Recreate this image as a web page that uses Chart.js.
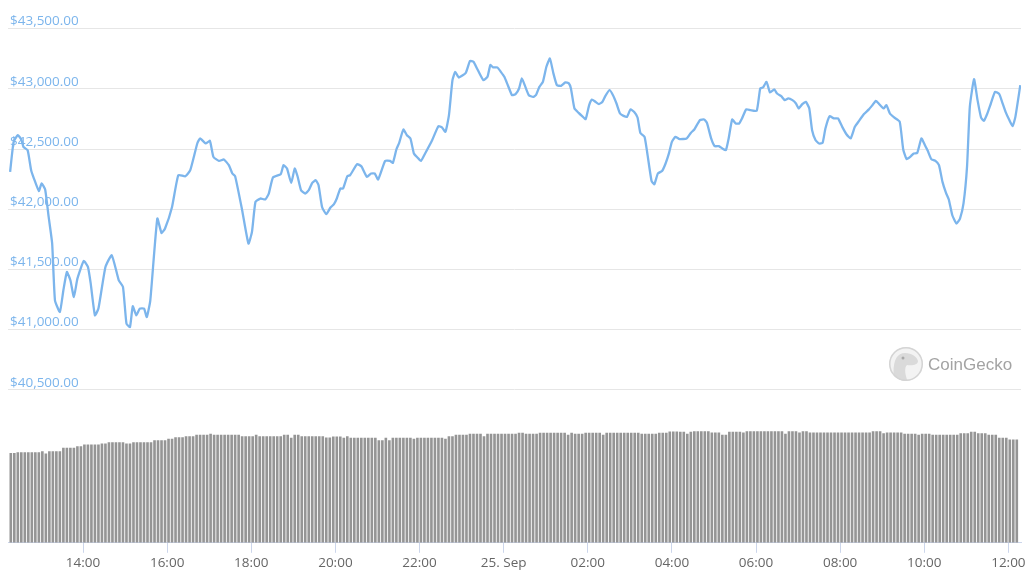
<!DOCTYPE html>
<html lang="en">
<head>
  <meta charset="UTF-8" />
  <title>BTC Price - 24h</title>
  <script src="https://cdn.jsdelivr.net/npm/chart.js"></script>
  <style>
    html, body { margin: 0; padding: 0; background: #fff; }
  </style>
</head>
<body>
  <canvas id="priceChart" width="1031" height="587"></canvas>

  <script>
    // time values are minutes after 24 Sep 12:00
    const priceMinutes = [
      16, 21, 27, 32, 35, 41, 46, 50, 57, 61, 66, 71, 76, 80, 87, 92, 97, 102, 107, 112,
      121, 127, 131, 137, 142, 152, 161, 171, 177, 182, 187, 191, 196, 201, 207, 211, 216, 226, 232, 237,
      247, 256, 266, 273, 283, 287, 295, 301, 306, 314, 321, 328, 333, 337, 347, 356, 361, 366, 373, 380,
      385, 391, 402, 406, 411, 417, 422, 426, 431, 437, 442, 447, 452, 456, 461, 467, 473, 478, 482, 487,
      491, 497, 501, 511, 517, 525, 531, 536, 541, 551, 558, 562, 567, 571, 577, 582, 587, 592, 597, 602,
      608, 618, 627, 632, 637, 642, 647, 651, 656, 666, 672, 677, 682, 691, 697, 701, 705, 711, 716, 721,
      726, 732, 737, 742, 746, 751, 756, 762, 766, 771, 776, 781, 786, 791, 796, 802, 808, 813, 816, 821,
      827, 832, 837, 842, 846, 851, 856, 861, 865, 871, 876, 881, 886, 891, 896, 901, 906, 911, 915, 921,
      925, 931, 935, 940, 946, 951, 956, 960, 965, 971, 981, 987, 992, 1000, 1006, 1010, 1016, 1021, 1027, 1032,
      1037, 1041, 1046, 1051, 1056, 1060, 1066, 1072, 1081, 1086, 1090, 1095, 1100, 1106, 1110, 1116, 1121, 1126, 1132, 1137,
      1141, 1146, 1151, 1156, 1160, 1165, 1170, 1175, 1179, 1185, 1191, 1197, 1203, 1209, 1215, 1221, 1227, 1234, 1241, 1246,
      1251, 1255, 1262, 1266, 1271, 1277, 1285, 1290, 1295, 1301, 1305, 1310, 1316, 1321, 1325, 1330, 1336, 1341, 1346, 1351,
      1355, 1360, 1366, 1371, 1376, 1381, 1385, 1391, 1396, 1401, 1405, 1410, 1415, 1421, 1427, 1431, 1436, 1441, 1446, 1450,
      1457
    ];
    const prices = [
      42310, 42559, 42615, 42579, 42518, 42490, 42324, 42255, 42152, 42214, 42164, 41936, 41715, 41244, 41147, 41327, 41479, 41410, 41271, 41424,
      41570, 41521, 41382, 41119, 41175, 41521, 41618, 41410, 41355, 41050, 41022, 41194, 41119, 41175, 41175, 41105, 41244, 41923, 41803, 41840,
      42019, 42283, 42274, 42324, 42546, 42588, 42546, 42568, 42435, 42401, 42413, 42366, 42297, 42274, 41992, 41715, 41812, 42061, 42089, 42081,
      42130, 42264, 42291, 42366, 42338, 42219, 42338, 42274, 42158, 42130, 42158, 42219, 42241, 42200, 42019, 41959, 42014, 42042, 42089, 42172,
      42172, 42274, 42283, 42374, 42357, 42269, 42297, 42297, 42247, 42401, 42401, 42385, 42496, 42551, 42662, 42615, 42588, 42463, 42430, 42401,
      42463, 42573, 42690, 42679, 42643, 42781, 43072, 43141, 43094, 43133, 43232, 43224, 43169, 43072, 43100, 43197, 43178, 43178, 43141, 43100,
      43030, 42947, 42956, 43003, 43086, 43016, 42947, 42933, 42947, 43016, 43058, 43183, 43252, 43128, 43030, 43025, 43053, 43045, 43003, 42837,
      42800, 42773, 42748, 42864, 42911, 42892, 42873, 42892, 42939, 42989, 42947, 42878, 42795, 42775, 42767, 42829, 42809, 42762, 42634, 42601,
      42463, 42235, 42208, 42297, 42318, 42380, 42468, 42559, 42601, 42582, 42588, 42634, 42662, 42740, 42745, 42717, 42588, 42524, 42524, 42504,
      42490, 42588, 42745, 42712, 42712, 42754, 42829, 42823, 42817, 43003, 43011, 43058, 42970, 42995, 42961, 42939, 42906, 42920, 42906, 42878,
      42837, 42873, 42892, 42837, 42656, 42573, 42546, 42551, 42671, 42773, 42754, 42754, 42684, 42623, 42588, 42684, 42734, 42790, 42829, 42864,
      42900, 42878, 42837, 42864, 42795, 42762, 42726, 42496, 42416, 42441, 42463, 42468, 42588, 42532, 42485, 42416, 42401, 42366, 42227, 42136,
      42081, 41950, 41881, 41923, 42048, 42352, 42850, 43080, 42906, 42762, 42734, 42795, 42878, 42975, 42956, 42892, 42809, 42745, 42690, 42767,
      43030
    ];

    // 24h volume (billions USD), one bar every 5 minutes
    const volumeStart = 17;
    const volumeStep = 5;
    const volumes = [
      26.9, 26.9, 27.1, 27.1, 27.1, 27.1, 27.1, 27.1, 27.1, 27.4, 26.7, 27.4,
      27.4, 27.4, 27.4, 28.4, 28.4, 28.4, 28.4, 28.9, 28.9, 29.4, 29.4, 29.4,
      29.4, 29.4, 29.7, 29.7, 30.1, 30.1, 30.1, 30.1, 30.1, 29.7, 29.7, 30.1,
      30.1, 30.1, 30.1, 30.1, 30.1, 30.7, 30.7, 30.7, 30.7, 31.1, 31.1, 31.6,
      31.6, 31.6, 31.9, 31.9, 31.9, 32.3, 32.3, 32.3, 32.3, 32.6, 32.3, 32.3,
      32.3, 32.3, 32.3, 32.3, 32.3, 32.3, 31.9, 31.9, 31.9, 31.9, 32.3, 31.9,
      31.9, 31.9, 31.9, 31.9, 31.9, 31.9, 32.3, 32.3, 31.4, 32.3, 32.3, 31.9,
      31.9, 31.9, 31.9, 31.9, 31.9, 31.9, 31.5, 31.5, 31.8, 31.8, 31.8, 31.4,
      31.9, 31.4, 31.4, 31.4, 31.4, 31.4, 31.4, 31.4, 31.4, 30.7, 30.7, 31.4,
      30.7, 31.4, 31.4, 31.4, 31.4, 31.4, 31.4, 31.1, 31.4, 31.4, 31.4, 31.4,
      31.4, 31.4, 31.4, 31.4, 31.1, 31.9, 31.9, 32.3, 32.3, 32.3, 32.3, 32.6,
      32.6, 32.6, 32.6, 31.9, 32.6, 32.6, 32.6, 32.6, 32.6, 32.6, 32.6, 32.6,
      32.6, 32.9, 32.9, 32.6, 32.6, 32.6, 32.6, 32.9, 32.9, 32.9, 32.9, 32.9,
      32.9, 32.9, 32.9, 32.3, 32.9, 32.6, 32.6, 32.6, 32.9, 32.9, 32.9, 32.9,
      32.9, 32.3, 32.9, 32.9, 32.9, 32.9, 32.9, 32.9, 32.9, 32.9, 32.9, 32.9,
      32.6, 32.6, 32.6, 32.6, 32.6, 32.9, 32.9, 32.9, 33.3, 33.3, 33.3, 33.2,
      33.2, 32.6, 33.2, 33.4, 33.4, 33.4, 33.4, 33.4, 33.0, 33.0, 33.0, 32.3,
      32.3, 33.2, 33.2, 33.2, 33.2, 33.0, 33.4, 33.4, 33.4, 33.4, 33.4, 33.4,
      33.4, 33.4, 33.4, 33.4, 33.4, 32.6, 33.4, 33.4, 33.4, 33.0, 33.4, 33.4,
      33.0, 33.0, 33.0, 33.0, 33.0, 33.0, 33.0, 33.0, 33.0, 33.0, 33.0, 33.0,
      33.0, 33.0, 33.0, 33.0, 33.0, 33.0, 33.4, 33.4, 33.4, 32.8, 33.0, 33.0,
      33.0, 33.0, 33.0, 32.6, 32.6, 32.6, 32.6, 32.3, 32.6, 32.6, 32.6, 32.3,
      32.3, 32.3, 32.3, 32.3, 32.3, 32.3, 32.3, 32.8, 32.8, 32.8, 33.2, 33.2,
      32.8, 32.8, 32.8, 32.3, 32.3, 32.3, 31.4, 31.4, 31.4, 30.9, 30.9, 30.9
    ];

    const priceTicks = [40500, 41000, 41500, 42000, 42500, 43000, 43500];
    const timeTicks = [120, 240, 360, 480, 600, 720, 840, 960, 1080, 1200, 1320, 1440];
    const timeLabels = ['14:00', '16:00', '18:00', '20:00', '22:00', '25. Sep', '02:00', '04:00', '06:00', '08:00', '10:00', '12:00'];

    const pricePoints = priceMinutes.map((m, i) => ({ x: m, y: prices[i] }));
    const volumePoints = volumes.map((v, i) => ({ x: volumeStart + i * volumeStep, y: v }));

    const usd = new Intl.NumberFormat('en-US', { style: 'currency', currency: 'USD', minimumFractionDigits: 2 });

    // CoinGecko watermark
    const watermark = {
      id: 'watermark',
      beforeDatasetsDraw(chart) {
        const ctx = chart.ctx;
        const cx = 906, cy = 364, r = 17;
        ctx.save();
        ctx.beginPath();
        ctx.arc(cx, cy, r, 0, Math.PI * 2);
        ctx.fillStyle = '#f3f3f3';
        ctx.fill();
        ctx.clip();
        ctx.beginPath();
        ctx.moveTo(cx - 12, cy + 18);
        ctx.bezierCurveTo(cx - 14, cy - 2, cx - 10, cy - 11, cx - 1, cy - 11);
        ctx.bezierCurveTo(cx + 6, cy - 11, cx + 11, cy - 7, cx + 12, cy - 3);
        ctx.bezierCurveTo(cx + 12, cy + 1, cx + 6, cy + 2, cx + 1, cy + 1);
        ctx.bezierCurveTo(cx - 2, cy + 4, cx - 1, cy + 11, cx + 2, cy + 18);
        ctx.closePath();
        ctx.fillStyle = '#dadada';
        ctx.fill();
        ctx.beginPath();
        ctx.arc(cx - 3, cy - 6, 1.5, 0, Math.PI * 2);
        ctx.fillStyle = '#a8a8a8';
        ctx.fill();
        ctx.restore();
        ctx.save();
        ctx.beginPath();
        ctx.arc(cx, cy, r - 0.75, 0, Math.PI * 2);
        ctx.strokeStyle = '#d4d4d4';
        ctx.lineWidth = 1.5;
        ctx.stroke();
        ctx.font = "17px 'Liberation Sans', Arial, sans-serif";
        ctx.fillStyle = '#a3a3a3';
        ctx.textBaseline = 'middle';
        ctx.fillText('CoinGecko', 928, 365);
        ctx.restore();
      }
    };

    Chart.defaults.font.family = "'Open Sans', 'Liberation Sans', sans-serif";
    Chart.defaults.font.size = 13.5;

    const ctx = document.getElementById('priceChart').getContext('2d');
    const priceChart = new Chart(ctx, {
      data: {
        datasets: [
          {
            type: 'line',
            label: 'Price',
            data: pricePoints,
            yAxisID: 'y',
            borderColor: '#7cb5ec',
            borderWidth: 2.3,
            pointRadius: 0,
            tension: 0.15,
            order: 1
          },
          {
            type: 'bar',
            label: 'Volume',
            data: volumePoints,
            yAxisID: 'y1',
            backgroundColor: '#959595',
            barPercentage: 0.75,
            categoryPercentage: 1,
            order: 2
          }
        ]
      },
      options: {
        responsive: false,
        animation: false,
        layout: { padding: { left: 4, right: 10, top: 28, bottom: 14 } },
        plugins: {
          legend: { display: false },
          tooltip: { enabled: false }
        },
        scales: {
          x: {
            type: 'linear',
            offset: false,
            min: 13,
            max: 1458,
            afterBuildTicks: (scale) => { scale.ticks = timeTicks.map(v => ({ value: v })); },
            ticks: {
              autoSkip: false,
              maxRotation: 0,
              padding: 2,
              color: '#666666',
              callback: (value, index) => timeLabels[index]
            },
            grid: {
              offset: false,
              drawOnChartArea: false,
              drawTicks: true,
              tickLength: 10,
              color: '#ccd6eb'
            },
            border: { display: true, color: '#ccd6eb' }
          },
          y: {
            position: 'left',
            min: 39230,
            max: 43505,
            afterBuildTicks: (scale) => { scale.ticks = priceTicks.map(v => ({ value: v })); },
            ticks: {
              mirror: true,
              padding: 2,
              labelOffset: -7,
              color: '#7cb5ec',
              callback: (value) => usd.format(value)
            },
            grid: { color: '#e6e6e6', drawTicks: false },
            border: { display: false }
          },
          y1: {
            display: false,
            position: 'right',
            min: 0,
            max: 154
          }
        }
      },
      plugins: [watermark]
    });
  </script>
</body>
</html>
